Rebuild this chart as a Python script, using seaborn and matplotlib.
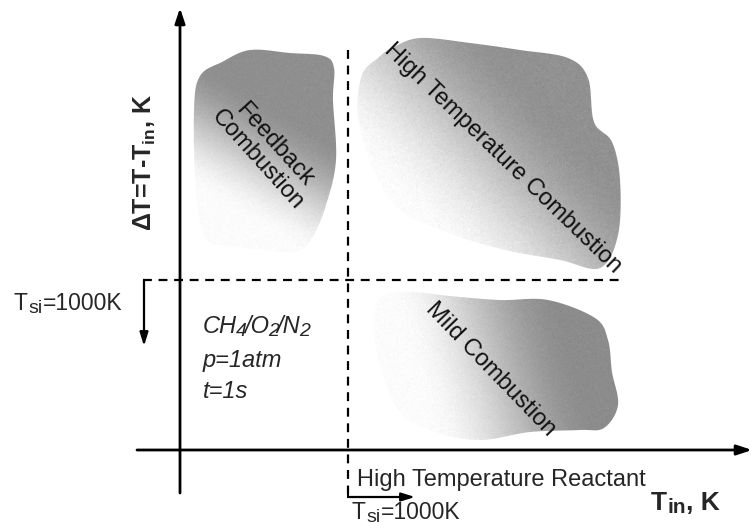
import numpy as np
import matplotlib
matplotlib.use("Agg")
import matplotlib.pyplot as plt
from matplotlib.patches import Polygon
import seaborn as sns

sns.set_style("white")
plt.rcParams["font.family"] = ["Liberation Sans", "DejaVu Sans"]
plt.rcParams["mathtext.fontset"] = "custom"
plt.rcParams["mathtext.rm"] = "Liberation Sans"
plt.rcParams["mathtext.it"] = "Liberation Sans:italic"
plt.rcParams["mathtext.bf"] = "Liberation Sans:bold"

# Regime regions in diagram coordinates (x to the right, y downward)
region_names = ["Feedback\nCombustion", "High Temperature Combustion", "Mild Combustion"]
feedback_x = [200, 222, 250, 290, 324, 334, 333, 336, 326, 312, 296, 268, 232, 206, 196, 194]
feedback_y = [76, 62, 50, 53, 56, 68, 100, 160, 205, 238, 252, 250, 246, 238, 190, 110]
hightemp_x = [392, 420, 470, 520, 568, 588, 594, 612, 620, 618, 600, 560, 505, 455, 400, 372, 358, 362, 378]
hightemp_y = [48, 38, 43, 50, 58, 78, 122, 142, 180, 235, 268, 260, 250, 235, 210, 165, 115, 75, 58]
mild_x = [380, 410, 450, 500, 548, 595, 608, 612, 618, 604, 580, 530, 480, 435, 400, 382, 374]
mild_y = [298, 292, 296, 300, 300, 318, 340, 372, 405, 428, 430, 432, 440, 432, 412, 372, 330]
label_x = [266, 503, 491]
label_y = [152, 158, 369]
label_angle = [-48, -44, -46]
shade_dark = [0.56, 0.57, 0.55]
# gradient direction (from light to dark), in diagram coordinates
shade_dir = [(0.7, -1.2), (1.0, -0.9), (1.0, -0.3)]
# fraction of the gradient span where shading starts and where it is fully dark
shade_start = [0.22, 0.22, 0.2]
shade_full = [0.68, 0.72, 0.78]

# Threshold positions and axes
x_axis_y = 450
y_axis_x = 180
tsi_x = 348
tsi_y = 280

# Operating conditions
mixture = [("CH", False), ("4", True), ("/O", False), ("2", True), ("/N", False), ("2", True)]
conditions = ["p=1atm", "t=1s"]

fig = plt.figure(figsize=(7.52, 5.29), dpi=100)
ax = fig.add_axes([0, 0, 1, 1])
ax.set_xlim(0, 752)
ax.set_ylim(529, 0)
ax.set_axis_off()


def smooth_closed(xs, ys, n=24):
    pts = np.column_stack([xs, ys]).astype(float)
    m = len(pts)
    out = []
    for i in range(m):
        p0, p1, p2, p3 = pts[(i - 1) % m], pts[i], pts[(i + 1) % m], pts[(i + 2) % m]
        for t in np.linspace(0, 1, n, endpoint=False):
            t2, t3 = t * t, t * t * t
            out.append(0.5 * ((2 * p1) + (-p0 + p2) * t + (2 * p0 - 5 * p1 + 4 * p2 - p3) * t2
                              + (-p0 + 3 * p1 - 3 * p2 + p3) * t3))
    return np.array(out)


def chained_text(x, y, parts, size, sub_size, sub_gap=0.3, gap=0.0, **kw):
    """Write a run of text on one baseline, with some pieces as subscripts."""
    first = ax.text(x, y, parts[0][0], fontsize=size, ha="left", va="baseline", **kw)
    prev = first
    for txt, is_sub in parts[1:]:
        if is_sub:
            prev = ax.annotate(txt, xy=(1, 0), xycoords=(prev, first), xytext=(sub_gap, 1.2),
                               textcoords="offset points", fontsize=sub_size,
                               ha="left", va="baseline", **kw)
        else:
            prev = ax.annotate(txt, xy=(1, 0), xycoords=(prev, first), xytext=(gap, 0),
                               textcoords="offset points", fontsize=size,
                               ha="left", va="bottom", **kw)
    return first


grain = np.random.default_rng(3)
shape_x = [feedback_x, hightemp_x, mild_x]
shape_y = [feedback_y, hightemp_y, mild_y]
for xs, ys, dark, (dx, dy), s0, s1 in zip(shape_x, shape_y, shade_dark, shade_dir,
                                          shade_start, shade_full):
    outline = smooth_closed(xs, ys)
    patch = Polygon(outline, closed=True, facecolor="none", edgecolor="none")
    ax.add_patch(patch)
    x0, x1 = outline[:, 0].min() - 2, outline[:, 0].max() + 2
    y0, y1 = outline[:, 1].min() - 2, outline[:, 1].max() + 2
    gx, gy = np.meshgrid(np.linspace(x0, x1, 300), np.linspace(y0, y1, 300))
    proj = (gx - x0) * dx + (gy - y1) * dy
    proj = (proj - proj.min()) / (proj.max() - proj.min())
    ramp = np.clip((proj - s0) / (s1 - s0), 0, 1)
    ramp = ramp * ramp * (3 - 2 * ramp)
    shade = 0.99 - (0.99 - dark) * ramp
    shade = np.clip(shade + grain.normal(0, 0.018, shade.shape), 0, 1)
    im = ax.imshow(shade, extent=(x0, x1, y1, y0), cmap="gray", vmin=0, vmax=1,
                   interpolation="bilinear", zorder=1)
    im.set_clip_path(patch)

for name, lx, ly, ang in zip(region_names, label_x, label_y, label_angle):
    ax.text(lx, ly, name, rotation=ang, rotation_mode="anchor", ha="center", va="center",
            fontsize=17, color="#111111", linespacing=1.0, zorder=3)

# Threshold lines
dash = (0, (4, 3))
ax.plot([tsi_x, tsi_x], [50, 497], color="black", lw=1.6, linestyle=dash, zorder=2)
sns.lineplot(x=[143, 619], y=[tsi_y, tsi_y], ax=ax, color="black", lw=1.6,
             linestyle=dash, estimator=None, sort=False, zorder=2)

# Coordinate axes
arrow = dict(arrowstyle="-|>,head_length=0.9,head_width=0.3", color="black", lw=2.0,
             shrinkA=0, shrinkB=0)
ax.annotate("", xy=(y_axis_x, 8), xytext=(y_axis_x, 493), arrowprops=arrow, zorder=4)
ax.annotate("", xy=(752, x_axis_y), xytext=(137, x_axis_y), arrowprops=arrow, zorder=4)

# Threshold arrows
small_arrow = dict(arrowstyle="-|>,head_length=0.8,head_width=0.25", color="black", lw=1.6,
                   shrinkA=0, shrinkB=0)
ax.plot([tsi_x, tsi_x], [490, 497], color="black", lw=1.4)
ax.annotate("", xy=(415, 497), xytext=(tsi_x, 497), arrowprops=small_arrow, zorder=4)
ax.annotate("", xy=(144, 346), xytext=(144, tsi_y), arrowprops=small_arrow, zorder=4)

# Labels
tsi_parts = [("T", False), ("si", True), ("=1000K", False)]
chained_text(14, 310, tsi_parts, 16.5, 14)
chained_text(352, 519, tsi_parts, 16.5, 14)
ax.text(357, 486, "High Temperature Reactant", fontsize=17, ha="left", va="baseline")
chained_text(651, 510, [("T", False), ("in", True), (", K", False)], 19, 15,
             fontweight="bold")
ax.text(145, 163, r"ΔT=T-T$_{\mathbf{in}}$, K", fontsize=18, fontweight="bold", rotation=90,
        ha="center", va="center")
chained_text(203, 333, mixture, 17, 14, sub_gap=-1.0, gap=-1.6, style="italic")
for txt, base in zip(conditions, [367, 398]):
    ax.text(203, base, txt, fontsize=17, style="italic", ha="left", va="baseline")

fig.savefig("out.png", dpi=100)
